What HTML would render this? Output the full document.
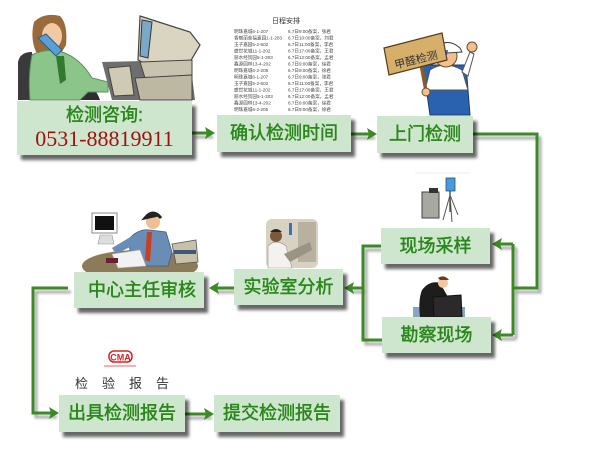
<!DOCTYPE html>
<html><head><meta charset="utf-8">
<style>
html,body{margin:0;padding:0;background:#fff;}
body{width:613px;height:450px;position:relative;overflow:hidden;font-family:"Liberation Sans","Noto Sans CJK SC",sans-serif;}
.b{position:absolute;background:#cde6cd;box-shadow:4px 5px 3px rgba(0,0,0,0.6);color:#2a861a;font-size:18px;text-align:center;font-family:"Liberation Sans","Noto Sans CJK SC",sans-serif;white-space:nowrap;-webkit-text-stroke:0.45px #2a861a;}
svg{position:absolute;left:0;top:0;}
</style></head><body>

<svg width="613" height="450" viewBox="0 0 613 450">
<defs>
<filter id="bl" x="-10%" y="-10%" width="130%" height="130%"><feGaussianBlur stdDeviation="1.2"/></filter>
</defs>

<!-- woman at desk image -->
<g>
<path d="M18,62 Q20,52 32,52 L36,100 L18,100 Z" fill="#3a3a3a"/>
<path d="M80,80 Q95,85 100,100 L70,100 Z" fill="#2e2e2e"/>
<path d="M34,22 Q44,12 60,16 Q68,24 66,45 L60,55 L36,52 Q30,38 34,22Z" fill="#9a6a3a"/>
<ellipse cx="52" cy="36" rx="10" ry="13" fill="#f1c9a2"/>
<path d="M32,55 Q45,48 62,52 Q80,58 92,78 L108,82 L108,92 L88,92 L80,100 L30,100 Q28,75 32,55Z" fill="#8cc58a" stroke="#5d8f5c" stroke-width="1"/>
<path d="M56,56 L64,56 L66,80 L60,84Z" fill="#2f7a2f"/>
<path d="M38,38 L46,34 L62,50 L56,56Z" fill="#5a9fd8" stroke="#2b5e8a" stroke-width="1"/>
<path d="M102,62 L190,60 L195,100 L112,100Z" fill="#6e6e6e"/>
<path d="M108,68 L130,66 L134,95 L114,96Z" fill="#cfcab4" stroke="#444" stroke-width="1"/>
<path d="M140,16 L190,32 L200,45 L190,62 L150,66 L138,60Z" fill="#d9d5c0" stroke="#444" stroke-width="1.2"/>
<path d="M142,20 L152,22 L148,58 L140,56Z" fill="#7aa8c8" stroke="#333" stroke-width="1"/>
<path d="M140,62 L192,60 L192,75 L145,78Z" fill="#c8c3ae" stroke="#444" stroke-width="1"/>
<path d="M135,78 L192,75 L192,100 L140,100Z" fill="#bdb8a2" stroke="#444" stroke-width="1"/>
</g>

<!-- schedule doc -->
<g font-family="Liberation Sans,Noto Sans CJK SC,sans-serif" fill="#444">
<text x="272" y="23" font-size="7" fill="#333">日程安排</text>
<g font-size="4.6">
<text x="234" y="33">明珠嘉城6-1-207</text><text x="288" y="33">6.7日9:00备案，张君</text>
<text x="234" y="39.5">香榭丽舍福嘉园1-1-203</text><text x="288" y="39.5">6.7日10:00备案，刘君</text>
<text x="234" y="46">玉子嘉园5-2-502</text><text x="288" y="46">6.7日11:00备案，李君</text>
<text x="234" y="52.5">盛世花城11-1-202</text><text x="288" y="52.5">6.7日17:00备案，王君</text>
<text x="234" y="59">丽水经贸园5-1-303</text><text x="288" y="59">6.7日12:00备案，孟君</text>
<text x="234" y="65.5">鑫源园林13-4-202</text><text x="288" y="65.5">6.7日9:00备案，徐君</text>
<text x="234" y="72">明珠嘉城6-2-205</text><text x="288" y="72">6.7日9:00备案，徐君</text>
<text x="234" y="78.5">明珠嘉城6-1-207</text><text x="288" y="78.5">6.7日9:00备案，张君</text>
<text x="234" y="85">玉子嘉园5-2-502</text><text x="288" y="85">6.7日11:00备案，李君</text>
<text x="234" y="91.5">盛世花城11-1-202</text><text x="288" y="91.5">6.7日17:00备案，王君</text>
<text x="234" y="98">丽水经贸园5-1-303</text><text x="288" y="98">6.7日12:00备案，孟君</text>
<text x="234" y="104.5">鑫源园林13-4-202</text><text x="288" y="104.5">6.7日9:00备案，徐君</text>
<text x="234" y="111">明珠嘉城6-2-205</text><text x="288" y="111">6.7日9:00备案，徐君</text>
</g></g>

<!-- worker with sign -->
<g>
<path d="M423,65 L430,115 L470,115 L466,65 Z" fill="#2a62b0" stroke="#173a70" stroke-width="1"/>
<path d="M430,70 Q445,60 462,70 L468,90 L425,90Z" fill="#ffffff" stroke="#555" stroke-width="1"/>
<ellipse cx="446" cy="56" rx="11" ry="11" fill="#f2c08e" stroke="#6b4a2a" stroke-width="1"/>
<path d="M434,50 Q446,36 460,48 L462,52 L432,54Z" fill="#fff" stroke="#444" stroke-width="1"/>
<path d="M432,52 L448,50 L447,55 L430,56Z" fill="#2a62b0"/>
<path d="M462,72 L470,52 L474,54 L468,76Z" fill="#fff" stroke="#555" stroke-width="1"/>
<circle cx="472" cy="47" r="5" fill="#f2c08e" stroke="#6b4a2a" stroke-width="1"/>
<path d="M423,62 L428,94 L425,95 L419,63Z" fill="#8a5a2a"/>
<path d="M384,48 L442,33 L447,60 L389,75Z" fill="#d6b06a" stroke="#5a3a18" stroke-width="1.2"/>
<text x="393" y="64" font-size="11" fill="#333" transform="rotate(-14 414 56)" font-family="Liberation Sans,Noto Sans CJK SC,sans-serif">甲醛检测</text>
<circle cx="426" cy="92" r="4" fill="#f2c08e" stroke="#6b4a2a" stroke-width="1"/>
</g>

<!-- sampling equipment -->
<g>
<line x1="415" y1="173" x2="470" y2="173" stroke="#ddd" stroke-width="0.6"/>
<rect x="422" y="192" width="17" height="26" fill="#a8a8a0" stroke="#444" stroke-width="1"/>
<rect x="429" y="188" width="9" height="5" fill="#333"/>
<rect x="446" y="178" width="9" height="13" fill="#4a9ad8" stroke="#26507a" stroke-width="0.8"/>
<line x1="450" y1="191" x2="450" y2="212" stroke="#333" stroke-width="1.2"/>
<line x1="450" y1="195" x2="443" y2="220" stroke="#555" stroke-width="1"/>
<line x1="450" y1="195" x2="458" y2="215" stroke="#555" stroke-width="1"/>
<line x1="450" y1="195" x2="452" y2="222" stroke="#555" stroke-width="1"/>
</g>

<!-- inspecting man -->
<g>
<rect x="413" y="307" width="52" height="10" fill="#8aa4c4"/>
<path d="M422,290 Q430,280 440,283 L448,297 L440,300 L438,317 L420,317 Q418,300 422,290Z" fill="#1d1d1d"/>
<circle cx="443" cy="283" r="5" fill="#f0c8a0"/>
<path d="M438,278 Q444,274 449,280 L440,280Z" fill="#6a3a1a"/>
<path d="M433,297 L461,295 L462,317 L434,317Z" fill="#2a2a2a" stroke="#111" stroke-width="1"/>
</g>

<!-- lab image -->
<g>
<rect x="266" y="219" width="52" height="49" rx="6" fill="#d8d2c2"/>
<rect x="298" y="222" width="18" height="40" fill="#b9b0a0"/>
<rect x="289" y="223" width="3" height="12" fill="#3a70c0"/>
<path d="M268,246 Q276,238 286,246 L292,268 L268,268Z" fill="#f4f2ee" stroke="#999" stroke-width="0.6"/>
<circle cx="276" cy="236" r="6" fill="#7a5a3a"/>
<path d="M270,232 Q276,226 282,232Z" fill="#222"/>
<path d="M284,254 L310,242 L312,250 L290,262Z" fill="#9a9484"/>
</g>

<!-- man at desk -->
<g>
<ellipse cx="140" cy="266" rx="58" ry="16" fill="#8c7b58"/>
<rect x="92" y="213" width="25" height="20" fill="#fff" stroke="#888" stroke-width="1"/>
<rect x="95" y="216" width="19" height="14" fill="#111"/>
<path d="M100,235 L112,235 L114,244 L98,244Z" fill="#ddd" stroke="#999" stroke-width="0.6"/>
<path d="M128,240 Q138,228 150,230 L166,232 L172,252 L168,266 L138,266 L130,250Z" fill="#6a8db8" stroke="#3e5e84" stroke-width="0.8"/>
<path d="M112,248 L132,236 L136,244 L116,254Z" fill="#6a8db8"/>
<path d="M147,232 L152,232 L150,262 L145,260Z" fill="#c84020"/>
<circle cx="153" cy="222" r="7" fill="#eebf94"/>
<path d="M145,218 Q153,208 161,218 L158,215Z" fill="#2a2a2a" stroke="#222" stroke-width="3"/>
<path d="M112,254 L140,250 L146,266 L118,268Z" fill="#f2f2f2" stroke="#aaa" stroke-width="0.6"/>
<rect x="106" y="258" width="12" height="5" fill="#6a2030"/>
<path d="M172,244 L196,240 L198,262 L176,264Z" fill="#c8c0a8" stroke="#555" stroke-width="0.8"/>
<rect x="174" y="250" width="22" height="4" fill="#3a5a78"/>
</g>

<!-- CMA logo -->
<g>
<rect x="109" y="351" width="23" height="11" rx="5" fill="#fff" stroke="#d22" stroke-width="1.5"/>
<text x="120.5" y="360.5" font-size="9" fill="#d22" text-anchor="middle" font-family="Liberation Sans,sans-serif" font-weight="bold">CMA</text>
<line x1="104" y1="366" x2="136" y2="366" stroke="#e66" stroke-width="1"/>
<text x="75" y="388" font-size="13" fill="#333" font-family="Liberation Sans,Noto Sans CJK SC,sans-serif" letter-spacing="14">检验报告</text>
</g>

<!-- connector shadows -->
<g stroke="#888" stroke-width="3" fill="none" opacity="0.7" filter="url(#bl)" transform="translate(3,4)">
<path d="M192,133 H210"/>
<path d="M351,134 H372"/>
<path d="M473,134 H537 V288 H513"/>
<path d="M513,244 V335"/><path d="M513,244 H497"/><path d="M513,335 H497"/>
<path d="M381,246 H363 V340 H382"/><path d="M363,288 H349"/>
<path d="M234,288 H214"/>
<path d="M68,288 H33 V413 H54"/>
<path d="M185,414 H209"/>
</g>

<!-- connectors -->
<g stroke="#3b8a26" stroke-width="3" fill="none">
<path d="M192,133 H210"/>
<path d="M351,134 H372"/>
<path d="M473,134 H537 V288 H513"/>
<path d="M513,244 V335"/><path d="M513,244 H497"/><path d="M513,335 H497"/>
<path d="M381,246 H363 V340 H382"/><path d="M363,288 H349"/>
<path d="M234,288 H214"/>
<path d="M68,288 H33 V413 H54"/>
<path d="M185,414 H209"/>
</g>
<g fill="#3b8a26">
<polygon points="215,133 205,127 207,133 205,139"/>
<polygon points="377,134 367,128 369,134 367,140"/>
<polygon points="492,244 502,238 500,244 502,250"/>
<polygon points="492,335 502,329 500,335 502,341"/>
<polygon points="344,288 354,282 352,288 354,294"/>
<polygon points="209,288 219,282 217,288 219,294"/>
<polygon points="59,413 49,407 51,413 49,419"/>
<polygon points="214,414 204,408 206,414 204,420"/>
</g>
</svg>

<div class="b" style="left:17px;top:101px;width:175px;height:54px;-webkit-text-stroke:0;">
<div style="position:absolute;left:0;right:0;top:3px;font-size:18px;line-height:22px;color:#2a861a;-webkit-text-stroke:0.45px #2a861a;">检测咨询:</div>
<div style="position:absolute;left:0;right:0;top:25px;font-family:'Liberation Serif','Noto Serif CJK SC',serif;font-size:22px;line-height:26px;color:#a01010;">0531-88819911</div>
</div>
<div class="b" style="left:217px;top:115px;width:134px;height:37px;line-height:37px;">确认检测时间</div>
<div class="b" style="left:377px;top:116px;width:96px;height:37px;line-height:37px;">上门检测</div>
<div class="b" style="left:381px;top:228px;width:109px;height:36px;line-height:36px;">现场采样</div>
<div class="b" style="left:382px;top:317px;width:109px;height:36px;line-height:36px;">勘察现场</div>
<div class="b" style="left:234px;top:269px;width:109px;height:36px;line-height:36px;">实验室分析</div>
<div class="b" style="left:74px;top:272px;width:130px;height:36px;line-height:36px;padding-left:6px;box-sizing:border-box;">中心主任审核</div>
<div class="b" style="left:59px;top:395px;width:126px;height:37px;line-height:37px;">出具检测报告</div>
<div class="b" style="left:214px;top:395px;width:126px;height:37px;line-height:37px;">提交检测报告</div>

</body></html>
